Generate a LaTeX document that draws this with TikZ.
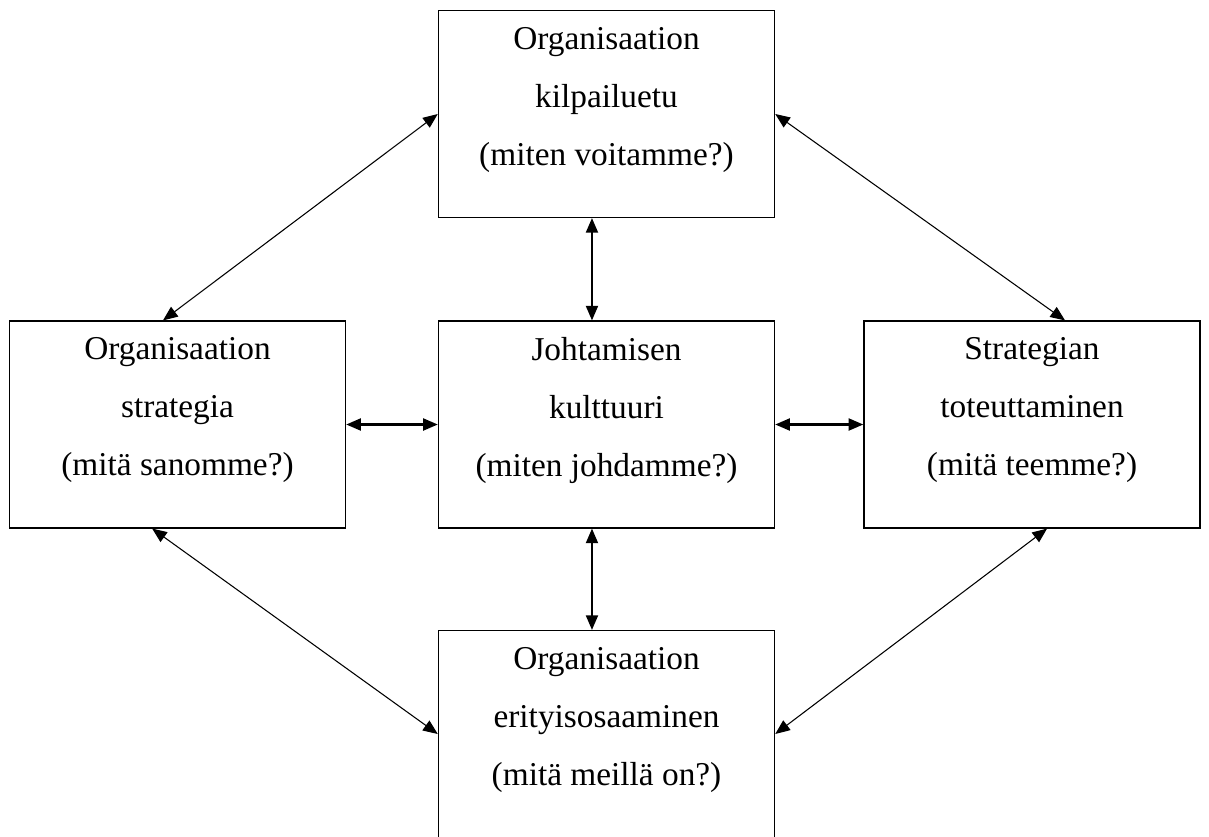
\documentclass[tikz,border=0pt]{standalone}
\usepackage{fontspec}
\setmainfont{Liberation Serif}
\usetikzlibrary{arrows.meta}

\tikzset{
  >={Triangle[length=11pt,width=9pt]},
  box/.style={draw,line width=1.1pt,minimum width=252pt,minimum height=155pt,inner sep=0pt},
  txt/.style={align=center,inner sep=0pt,anchor=north,font=\fontsize{25}{43.5}\selectfont},
  thin link/.style={<->,line width=0.8pt},
  thick link/.style={<->,line width=1.6pt}
}

\begin{document}
\begin{tikzpicture}[x=0.75pt,y=-0.75pt]
  \useasboundingbox (0,0) rectangle (1209,836);
  % boxes
  \node[box] (kilp) at (606.5,114) {};
  \node[box] (strat) at (177.5,424.5) {};
  \node[box] (johto) at (606.5,424.5) {};
  \node[box] (toteu) at (1032,424.5) {};
  \node[box] (osaam) at (606.5,734) {};
  % texts
  \node[txt] (kilpt) at ([yshift=-12.8pt]kilp.north) {Organisaation\\kilpailuetu\\(miten voitamme?)};
  \node[txt] (stratt) at ([yshift=-12.8pt]strat.north) {Organisaation\\strategia\\(mitä sanomme?)};
  \node[txt] (johtot) at ([yshift=-12.8pt]johto.north) {Johtamisen\\kulttuuri\\(miten johdamme?)};
  \node[txt] (toteut) at ([yshift=-12.8pt]toteu.north) {Strategian\\toteuttaminen\\(mitä teemme?)};
  \node[txt] (osaamt) at ([yshift=-12.8pt]osaam.north) {Organisaation\\erityisosaaminen\\(mitä meillä on?)};
  % links
  \draw[thin link] ([xshift=-10.9pt]strat.north) -- (kilp.west);
  \draw[thin link] (kilp.east) -- ([xshift=24.8pt]toteu.north);
  \draw[thin link] ([xshift=-19pt]strat.south) -- (osaam.west);
  \draw[thin link] ([xshift=11.3pt]toteu.south) -- (osaam.east);
  \draw[thick link] ([xshift=-10.9pt]kilp.south) -- ([xshift=-10.9pt]johto.north);
  \draw[thick link] ([xshift=-10.9pt]johto.south) -- ([xshift=-10.9pt]osaam.north);
  \draw[thick link] (strat.east) -- (johto.west);
  \draw[thick link] (johto.east) -- (toteu.west);
\end{tikzpicture}
\end{document}
